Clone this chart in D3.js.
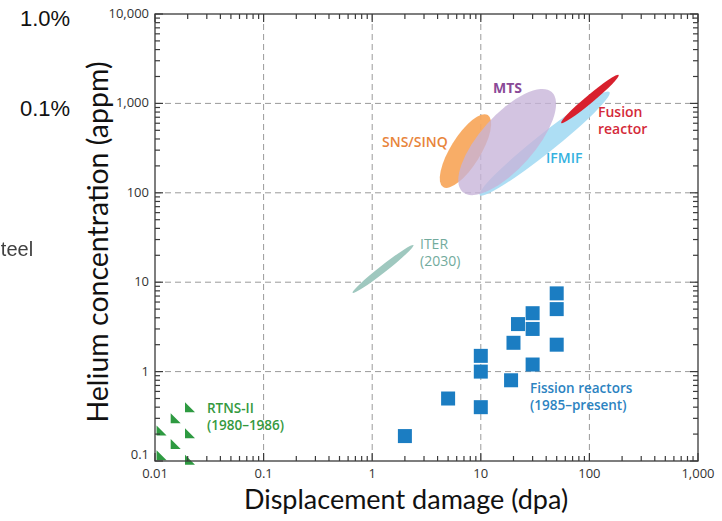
<!DOCTYPE html>
<html>
<head>
<meta charset="utf-8">
<script src="https://cdn.jsdelivr.net/npm/d3@7/dist/d3.min.js"></script>
<style>
  html, body { margin: 0; padding: 0; background: #fff; }
  svg { display: block; }
</style>
</head>
<body>
<svg id="chart" width="722" height="521"></svg>
<script>
// Axis ticks (log–log)
const xTicks = [0.01, 0.1, 1, 10, 100, 1000];
const xTickLabels = ["0.01", "0.1", "1", "10", "100", "1,000"];
const yTicks = [0.1, 1, 10, 100, 1000, 10000];
const yTickLabels = ["0.1", "1", "10", "100", "1,000", "10,000"];

// Fission reactors (1985–present): dpa vs. helium appm
const fissionDpa = [50, 50, 30, 22, 30, 20, 50, 10, 30, 10, 19, 5, 10, 2];
const fissionHe  = [7.5, 5, 4.5, 3.4, 3, 2.1, 2, 1.5, 1.2, 1, 0.8, 0.5, 0.4, 0.19];

// RTNS-II (1980–1986)
const rtnsDpa = [0.021, 0.0155, 0.0115, 0.021, 0.0155, 0.0115, 0.021];
const rtnsHe  = [0.40, 0.30, 0.22, 0.205, 0.155, 0.116, 0.103];

// Facility operating regions: ends of each region's long axis (dpa, appm)
const facilities    = ["IFMIF", "SNS/SINQ", "MTS", "Fusion reactor", "ITER (2030)"];
const regionDpaLow  = [9.8, 4.5, 6.8, 55, 0.66];
const regionHeLow   = [94, 116, 102, 604, 7.6];
const regionDpaHigh = [153, 11.6, 45, 186, 2.4];
const regionHeHigh  = [1340, 740, 1340, 2080, 26];

// Left-margin reference notes
const marginNotes = ["1.0%", "0.1%"];

const svg = d3.select("#chart");
const plotLeft = 155, plotRight = 698, plotTop = 14, plotBottom = 461;

const x = d3.scaleLog().domain([0.01, 1000]).range([plotLeft, plotRight]);
const y = d3.scaleLog().domain([0.1, 10000]).range([plotBottom, plotTop]);

// Region shapes: thickness across the long axis, fill and opacity
const regionStyle = {
  "IFMIF":          { w: 19, fill: "#a9dcf3", op: 0.95 },
  "SNS/SINQ":       { w: 30, fill: "#f7a65a", op: 0.92 },
  "MTS":            { w: 54, fill: "#c7b3d8", op: 0.78 },
  "Fusion reactor": { w: 8,  fill: "#d8202d", op: 1 },
  "ITER (2030)":    { w: 7,  fill: "#9fc8bf", op: 1 }
};

// Grid lines
const grid = svg.append("g");
grid.selectAll("line.gx").data(xTicks.slice(1, -1)).join("line")
  .attr("x1", d => x(d)).attr("x2", d => x(d))
  .attr("y1", plotTop).attr("y2", plotBottom)
  .attr("stroke", "#9a9a9a").attr("stroke-width", 1).attr("stroke-dasharray", "6,4");
grid.selectAll("line.gy").data(yTicks.slice(1, -1)).join("line")
  .attr("y1", d => y(d)).attr("y2", d => y(d))
  .attr("x1", plotLeft).attr("x2", plotRight)
  .attr("stroke", "#9a9a9a").attr("stroke-width", 1).attr("stroke-dasharray", "6,4");

// Facility regions
const regions = svg.append("g");
facilities.forEach((name, i) => {
  const x1 = x(regionDpaLow[i]), y1 = y(regionHeLow[i]);
  const x2 = x(regionDpaHigh[i]), y2 = y(regionHeHigh[i]);
  const cx = (x1 + x2) / 2, cy = (y1 + y2) / 2;
  const len = Math.hypot(x2 - x1, y2 - y1);
  const ang = Math.atan2(y2 - y1, x2 - x1) * 180 / Math.PI;
  const s = regionStyle[name];
  regions.append("ellipse")
    .attr("transform", `translate(${cx},${cy}) rotate(${ang})`)
    .attr("rx", len / 2).attr("ry", s.w / 2)
    .attr("fill", s.fill).attr("fill-opacity", s.op);
});

// Fission reactor squares
const sq = 14;
svg.append("g").selectAll("rect").data(fissionDpa).join("rect")
  .attr("x", (d) => x(d) - sq / 2)
  .attr("y", (d, i) => y(fissionHe[i]) - sq / 2)
  .attr("width", sq).attr("height", sq)
  .attr("fill", "#1b7dc2");

// RTNS-II triangles
const tr = 10;
svg.append("g").selectAll("path").data(rtnsDpa).join("path")
  .attr("d", (d, i) => {
    const cx = x(d), cy = y(rtnsHe[i]);
    return `M${cx - tr / 2},${cy - tr / 2} L${cx - tr / 2},${cy + tr / 2} L${cx + tr / 2},${cy + tr / 2} Z`;
  })
  .attr("fill", "#2e9a41");

// Frame with inward log ticks on all four sides
const frame = svg.append("g");
frame.append("rect").attr("x", plotLeft).attr("y", plotTop)
  .attr("width", plotRight - plotLeft).attr("height", plotBottom - plotTop)
  .attr("fill", "none").attr("stroke", "#3a3a3a").attr("stroke-width", 1.3);

function logTicks(lo, hi) {
  const out = [];
  for (let e = Math.log10(lo); e < Math.log10(hi) - 1e-9; e++) {
    for (let m = 1; m <= 9; m++) out.push({ v: m * Math.pow(10, e), major: m === 1 });
  }
  out.push({ v: hi, major: true });
  return out;
}
const xt = logTicks(0.01, 1000), yt = logTicks(0.1, 10000);
const tickColor = "#3a3a3a";
frame.selectAll("line.xb").data(xt).join("line")
  .attr("x1", d => x(d.v)).attr("x2", d => x(d.v))
  .attr("y1", plotBottom).attr("y2", d => plotBottom - (d.major ? 8 : 5))
  .attr("stroke", tickColor).attr("stroke-width", 1.2);
frame.selectAll("line.xt").data(xt).join("line")
  .attr("x1", d => x(d.v)).attr("x2", d => x(d.v))
  .attr("y1", plotTop).attr("y2", d => plotTop + (d.major ? 8 : 5))
  .attr("stroke", tickColor).attr("stroke-width", 1.2);
frame.selectAll("line.yl").data(yt).join("line")
  .attr("y1", d => y(d.v)).attr("y2", d => y(d.v))
  .attr("x1", plotLeft).attr("x2", d => plotLeft + (d.major ? 8 : 5))
  .attr("stroke", tickColor).attr("stroke-width", 1.2);
frame.selectAll("line.yr").data(yt).join("line")
  .attr("y1", d => y(d.v)).attr("y2", d => y(d.v))
  .attr("x1", plotRight).attr("x2", d => plotRight - (d.major ? 8 : 5))
  .attr("stroke", tickColor).attr("stroke-width", 1.2);

// Tick labels (the lowest y label sits just above the x labels)
const tickFont = "'Open Sans', sans-serif";
svg.append("g").selectAll("text").data(xTicks).join("text")
  .attr("x", d => x(d)).attr("y", plotBottom + 16.5)
  .attr("text-anchor", "middle")
  .attr("font-family", tickFont).attr("font-size", 13).attr("fill", "#333")
  .text((d, i) => xTickLabels[i]);
svg.append("g").selectAll("text").data(yTicks).join("text")
  .attr("x", plotLeft - 6).attr("y", d => Math.min(y(d) + 4, plotBottom - 2))
  .attr("text-anchor", "end")
  .attr("font-family", tickFont).attr("font-size", 13).attr("fill", "#333")
  .text((d, i) => yTickLabels[i]);

// Axis titles
svg.append("text")
  .attr("x", 406).attr("y", 508.5)
  .attr("text-anchor", "middle")
  .attr("font-family", "Lato, sans-serif").attr("font-size", 27).attr("fill", "#111")
  .text("Displacement damage (dpa)");
svg.append("text")
  .attr("transform", `translate(108,242) rotate(-90)`)
  .attr("text-anchor", "middle")
  .attr("font-family", "Lato, sans-serif").attr("font-size", 28.5).attr("fill", "#111")
  .text("Helium concentration (appm)");

// Margin notes
svg.append("text").attr("x", 20).attr("y", 26)
  .attr("font-family", "'Liberation Sans', Arial, sans-serif").attr("font-size", 22).attr("fill", "#111")
  .text(marginNotes[0]);
svg.append("text").attr("x", 20).attr("y", 116)
  .attr("font-family", "'Liberation Sans', Arial, sans-serif").attr("font-size", 22).attr("fill", "#111")
  .text(marginNotes[1]);
svg.append("text").attr("x", -12.5).attr("y", 256)
  .attr("font-family", "'Liberation Sans', Arial, sans-serif").attr("font-size", 20).attr("fill", "#404040")
  .style("filter", "blur(0.4px)")
  .text("Steel");

// Series labels
const labelFont = "'Open Sans', sans-serif";
function label(lines, lx, ly, color, weight, size = 14) {
  const t = svg.append("text")
    .attr("font-family", labelFont).attr("font-size", size)
    .attr("font-weight", weight).attr("fill", color);
  lines.forEach((s, i) => {
    t.append("tspan").attr("x", lx).attr("y", ly + i * 16.5).text(s);
  });
}
label(["MTS"], 493, 93, "#8a4a97", 700);
label(["SNS/SINQ"], 382, 147, "#e8843a", 600);
label(["Fusion", "reactor"], 598, 117, "#d42a3a", 600);
label(["IFMIF"], 546, 163, "#35b2df", 600);
label(["ITER", "(2030)"], 420, 249, "#72ab9d", 400);
label(["Fission reactors", "(1985–present)"], 530, 393, "#2c83c1", 600, 13.5);
label(["RTNS-II", "(1980–1986)"], 207, 413, "#35993f", 600, 13.5);
</script>
</body>
</html>
